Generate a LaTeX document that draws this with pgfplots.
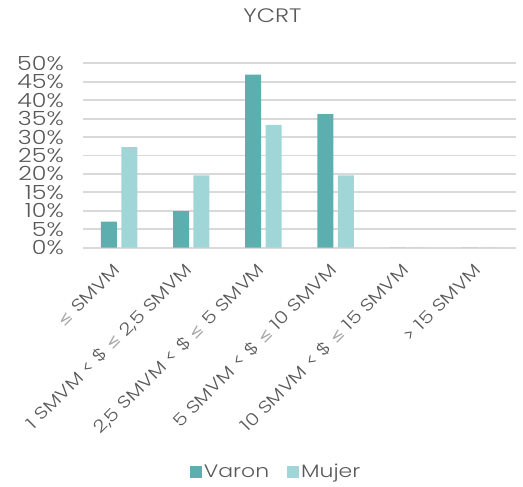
\documentclass[border=0pt]{standalone}
\usepackage{fontspec}
\IfFontExistsTF{Poppins Light}{\setmainfont{Poppins Light}[FakeStretch=1.22]}{\setmainfont{Poppins}[FakeStretch=1.22]}
\newfontfamily\symfont{DejaVu Sans}
\usepackage{pgfplots}
\pgfplotsset{compat=1.18}
\definecolor{varon}{HTML}{5DAFAF}
\definecolor{mujer}{HTML}{A0D6D7}
\definecolor{txt}{HTML}{595959}
\definecolor{gridc}{HTML}{D9D9D9}
\newcommand{\lesym}{{\symfont\fontsize{16}{16}\selectfont\color{gray!70}≤}}
\begin{document}
\begin{tikzpicture}
\begin{axis}[
  scale only axis,
  width=433pt, height=184.4pt,
  ybar=4.4pt, bar width=16pt,
  xmin=-0.5, xmax=5.5,
  ymin=0, ymax=50,
  ytick={0,5,...,50},
  yticklabel={\pgfmathprintnumber{\tick}\%},
  /pgf/number format/assume math mode=true,
  xtick={0,1,2,3,4,5},
  xticklabels={{\lesym\ SMVM},{1 SMVM < \$ \lesym\ 2,5 SMVM},{2,5 SMVM < \$ \lesym\ 5 SMVM},{5 SMVM < \$ \lesym\ 10 SMVM},{10 SMVM < \$ \lesym\ 15 SMVM},{> 15 SMVM}},
  major tick length=0pt,
  tick style={draw=none},
  axis line style={draw=none},
  xmajorgrids=false,
  ymajorgrids=true,
  major grid style={gridc, line width=1.8pt},
  yticklabel style={font=\fontsize{19.5}{19.5}\selectfont, text=txt, anchor=east, inner sep=0pt, xshift=-19pt},
  xticklabel style={font=\fontsize{17}{17}\selectfont, text=txt, xshift=-2pt, yshift=-19pt, rotate=45, anchor=east, inner sep=0pt},
  title={YCRT},
  title style={at={(0.4376,1.225)}, anchor=center, font=\fontsize{19.5}{19.5}\selectfont, text=txt},
  legend style={at={(0.446,-1.215)}, anchor=center, draw=none, legend columns=2,
    font=\fontsize{18}{18}\selectfont, text=txt,
    /tikz/every even column/.append style={column sep=16pt}},
  legend image code/.code={\fill[#1] (0pt,-6pt) rectangle (12pt,6pt);},
]
\addplot[fill=varon, draw=none] coordinates {(0,7.1) (1,9.9) (2,46.9) (3,36.2) (4,0) (5,0)};
\addplot[fill=mujer, draw=none] coordinates {(0,27.3) (1,19.6) (2,33.3) (3,19.6) (4,0) (5,0)};
\legend{Varon,Mujer}
\end{axis}
\pgfresetboundingbox
\path[use as bounding box] (-83pt,-239.3pt) rectangle (440pt,247.7pt);
\end{tikzpicture}
\end{document}
